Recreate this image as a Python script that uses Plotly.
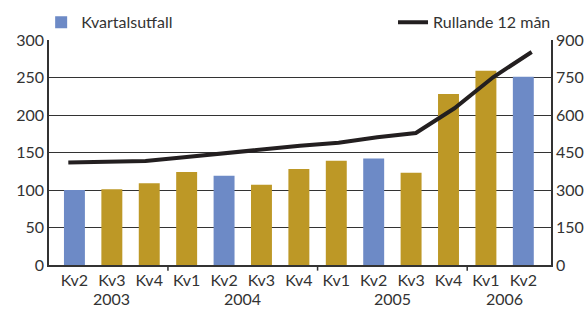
import plotly.graph_objects as go

quarters = ["Kv2", "Kv3", "Kv4", "Kv1", "Kv2", "Kv3", "Kv4", "Kv1", "Kv2", "Kv3", "Kv4", "Kv1", "Kv2"]
years = ["2003", "2004", "2005", "2006"]
year_centers = [1, 4.5, 8.5, 11.5]
year_boundaries = [2.5, 6.5, 10.5]
kvartalsutfall = [100, 101, 109, 124, 119, 107, 128, 139, 142, 123, 228, 259, 251]
rullande_12 = [410, 414, 416, 431, 447, 460, 477, 489, 511, 528, 627, 751, 852]

BLUE = "#6d8ac6"
GOLD = "#bd9826"
TXT = "#333333"
FONT = "Lato"

idx = list(range(len(quarters)))
colors = [BLUE if q == "Kv2" else GOLD for q in quarters]

fig = go.Figure()
fig.add_trace(go.Bar(
    x=idx, y=kvartalsutfall, name="Kvartalsutfall",
    marker=dict(color=colors, line=dict(width=0)),
    width=0.56, legend="legend", xaxis="x", yaxis="y",
))
fig.add_trace(go.Scatter(
    x=idx, y=rullande_12, name="Rullande 12 mån", mode="lines",
    line=dict(color="#231f20", width=4), legend="legend2",
    xaxis="x2", yaxis="y2",
))

fig.update_layout(
    width=588, height=309,
    margin=dict(l=49, r=37, t=40, b=44, autoexpand=False),
    paper_bgcolor="white", plot_bgcolor="white",
    font=dict(family=FONT, size=16, color=TXT),
    showlegend=True,
    xaxis=dict(
        range=[-0.68, 12.74], tickvals=idx, ticktext=quarters,
        showgrid=False, showline=True, linecolor="#333", linewidth=1.5,
        ticks="", zeroline=False, fixedrange=True, automargin=False,
    ),
    xaxis2=dict(
        range=[-0.5, 12.5], overlaying="x", visible=False,
    ),
    yaxis=dict(
        range=[0, 300], tickvals=[0, 50, 100, 150, 200, 250, 300],
        showgrid=True, gridcolor="#333", gridwidth=1.3,
        showline=True, linecolor="#333", linewidth=1.5,
        ticks="", zeroline=False, automargin=False,
    ),
    yaxis2=dict(
        range=[0, 900], tickvals=[0, 150, 300, 450, 600, 750, 900],
        overlaying="y", side="right", anchor="x",
        showgrid=False, showline=True, linecolor="#333", linewidth=1.5,
        ticks="", zeroline=False, automargin=False,
    ),
    legend=dict(
        xref="container", yref="container",
        x=0.07, xanchor="left", y=0.928, yanchor="middle",
        orientation="h", bgcolor="rgba(0,0,0,0)",
        font=dict(size=16, color=TXT),
    ),
    legend2=dict(
        xref="container", yref="container",
        x=0.9456, xanchor="right", y=0.928, yanchor="middle",
        orientation="h", bgcolor="rgba(0,0,0,0)",
        font=dict(size=16, color=TXT),
    ),
)

# year boundary tick marks
for b in year_boundaries:
    fig.add_shape(type="line", xref="x", yref="paper", x0=b, x1=b, y0=0, y1=-0.025,
                  line=dict(color="#333", width=1.5))

# year labels
for yr, c in zip(years, year_centers):
    fig.add_annotation(x=c, y=-0.149, xref="x", yref="paper", text=yr,
                       showarrow=False, yanchor="middle", borderpad=0,
                       font=dict(size=16, color=TXT))

fig.write_html("out.html", config={"displayModeBar": False},
               post_script="document.body.style.margin='0';")
